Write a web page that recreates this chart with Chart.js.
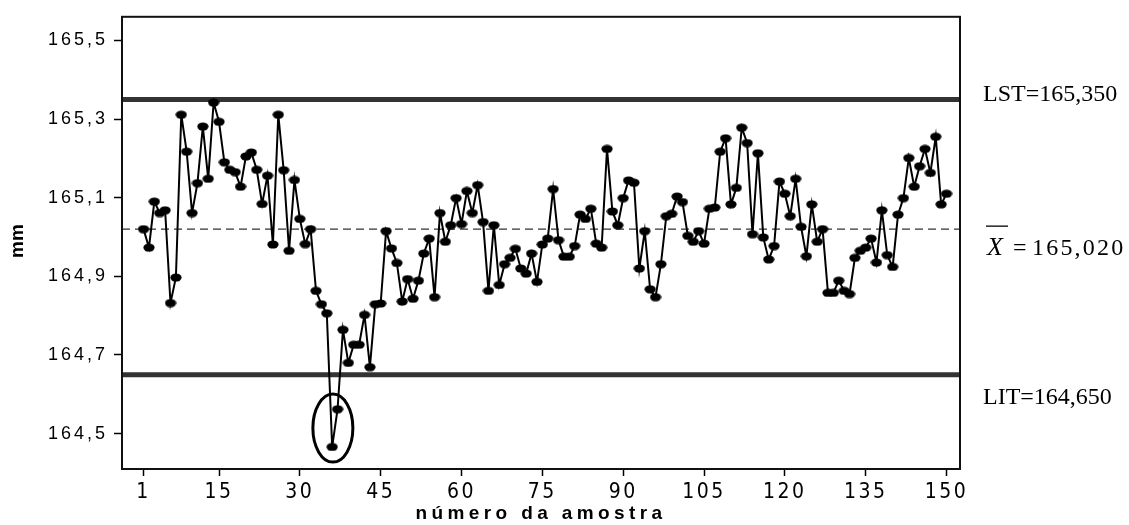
<!DOCTYPE html>
<html>
<head>
<meta charset="utf-8">
<script src="https://cdn.jsdelivr.net/npm/chart.js@4.4.0/dist/chart.umd.min.js"></script>
<style>
  html, body { margin: 0; padding: 0; background: #fff; }
  #carta { display: block; }
</style>
</head>
<body>
<canvas id="carta" width="1129" height="525"></canvas>
<script>
// número da amostra (1..150)
const amostras = Array.from({ length: 150 }, (_, i) => i + 1);

// medições individuais, em mm
const medidas = [
  165.020, 164.973, 165.090, 165.061, 165.068, 164.832, 164.897, 165.311, 165.217, 165.061,
  165.137, 165.281, 165.148, 165.342, 165.293, 165.190, 165.171, 165.165, 165.128, 165.205,
  165.215, 165.171, 165.084, 165.156, 164.981, 165.311, 165.170, 164.965, 165.145, 165.046,
  164.982, 165.020, 164.863, 164.829, 164.806, 164.466, 164.562, 164.764, 164.680, 164.726,
  164.726, 164.802, 164.669, 164.829, 164.831, 165.015, 164.971, 164.934, 164.836, 164.893,
  164.843, 164.889, 164.958, 164.996, 164.847, 165.061, 164.988, 165.030, 165.099, 165.033,
  165.117, 165.061, 165.132, 165.038, 164.863, 165.030, 164.878, 164.931, 164.947, 164.970,
  164.920, 164.907, 164.958, 164.886, 164.981, 164.996, 165.122, 164.992, 164.950, 164.950,
  164.977, 165.057, 165.046, 165.072, 164.983, 164.973, 165.224, 165.065, 165.030, 165.099,
  165.144, 165.138, 164.920, 165.015, 164.867, 164.847, 164.931, 165.053, 165.059, 165.103,
  165.089, 165.003, 164.988, 165.015, 164.983, 165.072, 165.075, 165.217, 165.251, 165.083,
  165.125, 165.278, 165.239, 165.007, 165.213, 164.999, 164.943, 164.977, 165.141, 165.110,
  165.053, 165.148, 165.026, 164.951, 165.083, 164.988, 165.020, 164.858, 164.858, 164.889,
  164.863, 164.855, 164.947, 164.965, 164.973, 164.996, 164.935, 165.068, 164.954, 164.924,
  165.057, 165.099, 165.201, 165.128, 165.180, 165.224, 165.163, 165.255, 165.083, 165.110
];

// limites de controle e linha central
const LST = 165.35;
const MEDIA = 165.02;
const LIT = 164.65;

// amostras abaixo do LIT (marcadas com elipse)
const foraDeControle = [36, 37];

const ticksX = [1, 15, 30, 45, 60, 75, 90, 105, 120, 135, 150];
const ticksY = [164.5, 164.7, 164.9, 165.1, 165.3, 165.5];

const X_MIN = -3, X_MAX = 152.5;
const Y_MIN = 164.41, Y_MAX = 165.56;

const virgula = (v, casas) => v.toFixed(casas).replace('.', ',');

// marcador elíptico dos pontos
const marcador = document.createElement('canvas');
marcador.width = 12;
marcador.height = 9;
const mctx = marcador.getContext('2d');
mctx.fillStyle = '#000';
mctx.beginPath();
mctx.ellipse(6, 4.5, 5.6, 4.1, 0, 0, Math.PI * 2);
mctx.fill();

const linhaHorizontal = v => [{ x: X_MIN, y: v }, { x: X_MAX, y: v }];

// espaçamento entre letras por eixo (rótulos e título)
function espacar(scale, metodo, valor) {
  const original = scale[metodo];
  if (original.espacado) return;
  const f = function (...args) {
    const ctx = this.ctx;
    const anterior = ctx.letterSpacing;
    ctx.letterSpacing = valor;
    original.apply(this, args);
    ctx.letterSpacing = anterior;
  };
  f.espacado = true;
  scale[metodo] = f;
}

const acabamento = {
  id: 'acabamento',
  afterLayout(chart) {
    espacar(chart.scales.x, 'drawLabels', '2.5px');
    espacar(chart.scales.x, 'drawTitle', '4.4px');
    espacar(chart.scales.y, 'drawLabels', '3px');
  },
  afterDatasetsDraw(chart) {
    const { ctx, chartArea: a, scales: { x, y } } = chart;
    const px = foraDeControle.map(n => x.getPixelForValue(n));
    const py = foraDeControle.map(n => y.getPixelForValue(medidas[n - 1]));
    ctx.save();
    ctx.strokeStyle = '#000';
    ctx.lineWidth = 3;
    ctx.beginPath();
    ctx.ellipse((px[0] + px[1]) / 2 - 2, (py[0] + py[1]) / 2, 20, 34, 0, 0, Math.PI * 2);
    ctx.stroke();
    // moldura da área do gráfico
    ctx.lineWidth = 2;
    ctx.strokeStyle = '#111';
    ctx.strokeRect(a.left, a.top, a.right - a.left, a.bottom - a.top);
    ctx.restore();
  },
  afterDraw(chart) {
    const { ctx, scales: { y } } = chart;
    ctx.save();
    ctx.letterSpacing = '0px';
    ctx.fillStyle = '#000';

    // título do eixo y
    ctx.save();
    ctx.translate(18, 241);
    ctx.rotate(-Math.PI / 2);
    ctx.font = 'bold 19px "Liberation Sans", Arial, sans-serif';
    ctx.textAlign = 'center';
    ctx.textBaseline = 'middle';
    ctx.fillText('mm', 0, 0);
    ctx.restore();

    // rótulos dos limites
    ctx.textAlign = 'left';
    ctx.textBaseline = 'alphabetic';
    ctx.font = '24px "Liberation Serif", "Times New Roman", serif';
    ctx.fillText('LST=' + virgula(LST, 3), 983, y.getPixelForValue(LST) + 1.6);
    ctx.fillText('LIT=' + virgula(LIT, 3), 983, y.getPixelForValue(LIT) + 29);

    const base = y.getPixelForValue(MEDIA) + 26;
    ctx.font = 'italic 26px "Liberation Serif", "Times New Roman", serif';
    ctx.fillText('X', 987, base);
    ctx.lineWidth = 1.3;
    ctx.beginPath();
    ctx.moveTo(986, base - 29);
    ctx.lineTo(1008, base - 29);
    ctx.stroke();
    ctx.font = '24px "Liberation Serif", "Times New Roman", serif';
    ctx.fillText('=', 1013, base);
    ctx.letterSpacing = '2.2px';
    ctx.fillText(virgula(MEDIA, 3), 1032, base);
    ctx.restore();
  }
};

new Chart(document.getElementById('carta'), {
  type: 'line',
  data: {
    datasets: [
      {
        label: 'medidas',
        data: amostras.map((n, i) => ({ x: n, y: medidas[i] })),
        borderColor: '#000',
        borderWidth: 2,
        pointStyle: marcador,
        pointRadius: 5,
        tension: 0,
        order: 0
      },
      {
        label: 'média',
        data: linhaHorizontal(MEDIA),
        borderColor: '#333',
        borderWidth: 1.3,
        borderDash: [8, 5],
        pointRadius: 0,
        order: 1
      },
      {
        label: 'LST',
        data: linhaHorizontal(LST),
        borderColor: '#333',
        borderWidth: 5,
        pointRadius: 0,
        order: 2
      },
      {
        label: 'LIT',
        data: linhaHorizontal(LIT),
        borderColor: '#333',
        borderWidth: 5,
        pointRadius: 0,
        order: 2
      }
    ]
  },
  options: {
    responsive: false,
    animation: false,
    devicePixelRatio: 1,
    layout: { padding: { top: 14, right: 169, left: 0, bottom: 0 } },
    plugins: { legend: { display: false }, tooltip: { enabled: false } },
    scales: {
      x: {
        type: 'linear',
        min: X_MIN,
        max: X_MAX,
        afterFit(s) { s.height = 56; },
        afterBuildTicks(s) { s.ticks = ticksX.map(v => ({ value: v })); },
        border: { display: false },
        grid: { drawOnChartArea: false, tickLength: 7, tickWidth: 1.5, color: '#000' },
        ticks: {
          padding: 4,
          maxRotation: 0,
          autoSkip: false,
          color: '#000',
          font: { family: '"Liberation Sans Narrow", "DejaVu Sans Condensed", serif', size: 21 },
          callback: v => String(v)
        },
        title: {
          display: true,
          text: 'número da amostra',
          color: '#000',
          padding: { top: 0, bottom: 0 },
          font: { family: '"Liberation Sans", Arial, sans-serif', size: 19, weight: 'bold' }
        }
      },
      y: {
        min: Y_MIN,
        max: Y_MAX,
        afterFit(s) { s.width = 122; },
        afterBuildTicks(s) { s.ticks = ticksY.map(v => ({ value: v })); },
        border: { display: false },
        grid: { drawOnChartArea: false, tickLength: 8, tickWidth: 1.5, color: '#000' },
        ticks: {
          padding: 6,
          color: '#000',
          font: { family: '"Liberation Sans", Arial, sans-serif', size: 18 },
          callback: v => virgula(v, 1)
        }
      }
    }
  },
  plugins: [acabamento]
});
</script>
</body>
</html>
